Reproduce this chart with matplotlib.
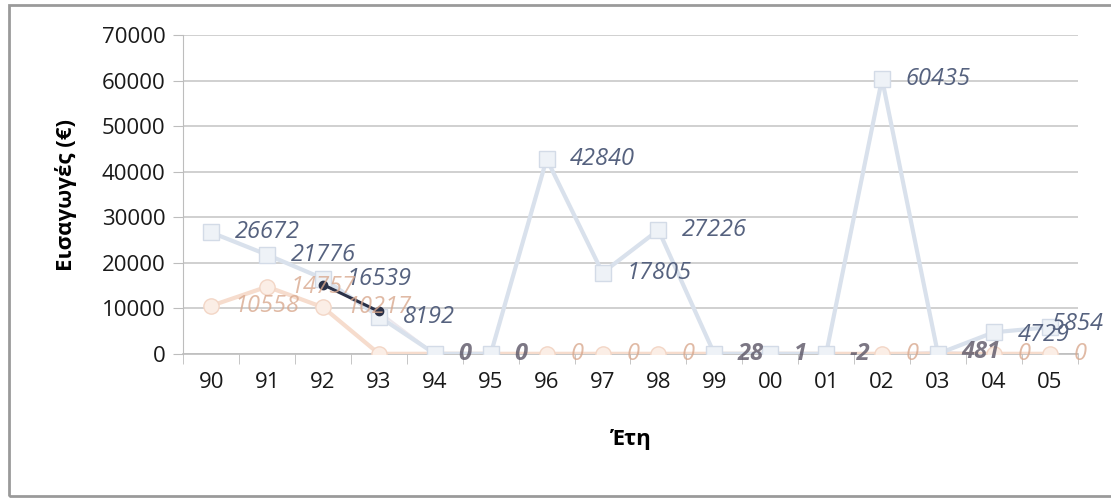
import numpy as np
import matplotlib
matplotlib.use('Agg')
import matplotlib.pyplot as plt
from matplotlib.patches import Rectangle

# data
years = ['90', '91', '92', '93', '94', '95', '96', '97', '98', '99',
         '00', '01', '02', '03', '04', '05']
imports_a = [26672, 21776, 16539, 8192, 0, 0, 42840, 17805, 27226, 0,
             0, 0, 60435, 0, 4729, 5854]
imports_b = [10558, 14757, 10217, 0, 0, 0, 0, 0, 0, 0,
             0, 0, 0, 0, 0, 0]
imports_c = [np.nan, np.nan, 15200, 9300, 0, 0, 0, 0, 0, 28,
             1, -2, 0, 481, 0, 0]
yticks = [0, 10000, 20000, 30000, 40000, 50000, 60000, 70000]

plt.rcParams['font.family'] = ['Open Sans', 'DejaVu Sans']

fig = plt.figure(figsize=(11.11, 4.99), dpi=100)
ax = fig.add_axes([0.165, 0.291, 0.805, 0.638])

x = np.arange(len(years))

# faint third series, only its 92-93 piece survives dark in the scan
ax.plot(x, imports_c, color='#ece7ec', lw=1.5, marker='o', ms=6,
        mfc='#f6f2f4', mec='#e8e2e8', zorder=3)
ax.plot(x[2:4], imports_c[2:4], color='#2a3148', lw=2.2, marker='o', ms=6,
        mfc='#2a3148', mec='#2a3148', zorder=6)

ax.plot(x, imports_b, color='#f6dccd', lw=3, marker='o', ms=11,
        mfc='#fbeee6', mec='#f3d6c6', zorder=4)
ax.plot(x, imports_a, color='#d9e1ec', lw=3, marker='s', ms=11,
        mfc='#eef2f7', mec='#d3dbe7', zorder=5)

# data labels
lab = dict(textcoords='offset points', ha='left', va='center',
           fontsize=17, style='italic', zorder=8, annotation_clip=False)
last = len(years) - 1
for i, v in enumerate(imports_a):
    if v > 0:
        off = (1, 2) if i == last else (17, -2 if i == last - 1 else 0)
        ax.annotate(str(v), (x[i], v), xytext=off, color='#56627f', **lab)
for i, v in enumerate(imports_b):
    if v > 0 or i in (6, 7, 8, 12, 14, 15):
        ax.annotate(str(v), (x[i], v), xytext=(17, 0), color='#d9a98f',
                    alpha=0.8, **lab)
for i, v in enumerate(imports_c):
    if i in (4, 5, 9, 10, 11, 13):
        ax.annotate(str(v), (x[i], v), xytext=(17, 0), color='#5b5566',
                    fontweight='bold', alpha=0.8, **lab)

ax.set_xlim(-0.5, len(years) - 0.5)
ax.set_ylim(0, 70000)
ax.set_yticks(yticks)
ax.set_yticklabels([str(t) for t in yticks])
ax.set_xticks(x)
ax.set_xticklabels(years)
ax.set_xticks(np.arange(len(years) + 1) - 0.5, minor=True)

ax.grid(axis='y', color='#c8c8c8', lw=1.2)
ax.set_axisbelow(True)
for s in ['top', 'right']:
    ax.spines[s].set_visible(False)
ax.spines['left'].set_color('#bdbdbd')
ax.spines['bottom'].set_color('#bdbdbd')
ax.spines['bottom'].set_linewidth(1.2)

ax.tick_params(axis='y', length=7, color='#bdbdbd', labelsize=16, pad=6, labelcolor='#1a1a1a')
ax.tick_params(axis='x', which='major', length=0, labelsize=16, pad=13, labelcolor='#1a1a1a')
ax.tick_params(axis='x', which='minor', length=7, color='#bdbdbd')

ax.set_ylabel('Εισαγωγές (€)', fontsize=16, fontweight='bold', labelpad=18)
ax.set_xlabel('Έτη', fontsize=16, fontweight='bold', labelpad=26)

# outer chart border (right edge falls off the scan)
fig.patches.append(Rectangle((0.008, 0.006), 1.0, 0.984, transform=fig.transFigure,
                             fill=False, edgecolor='#9a9a9a', lw=2))

fig.savefig('out.png', dpi=100)
